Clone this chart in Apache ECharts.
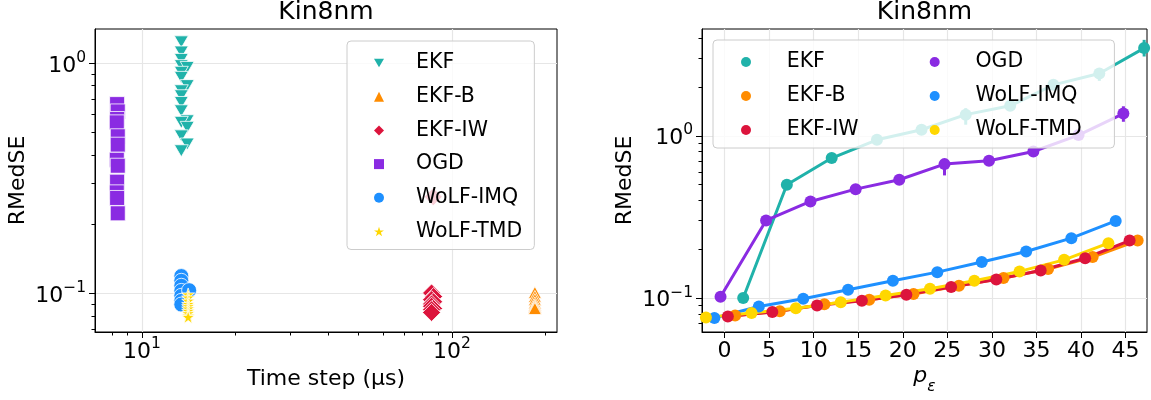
<!DOCTYPE html>
<html><head><meta charset="utf-8">
<script src="https://cdn.jsdelivr.net/npm/echarts@6/dist/echarts.min.js"></script>
<style>html,body{margin:0;padding:0;background:#fff}#c{width:1151px;height:400px}</style>
</head><body><div id="c"></div>
<script>
// ---------- data: left panel (time step vs RMedSE) ----------
const methods = ['EKF','EKF-B','EKF-IW','OGD','WoLF-IMQ','WoLF-TMD'];
const ekfT   = [13.4,13.4,13.4,13.4,14.0,13.4,13.4,14.0,13.4,13.4,13.4,13.4,14.0,13.4,14.0,13.4,14.0,13.4];
const ekfY   = [1.24,1.12,1.04,0.977,0.96,0.914,0.869,0.80,0.76,0.723,0.676,0.622,0.563,0.554,0.527,0.484,0.446,0.417];
const ekfbT  = [185,185,185,185,185,185,185,185];
const ekfbY  = [0.101,0.097,0.094,0.091,0.089,0.088,0.087,0.086];
const ekfiwT = [85.9,87.2,85.9,87.2,85.9,85.9,87.2,85.9,85.9,87.0];
const ekfiwY = [0.1005,0.097,0.094,0.092,0.090,0.088,0.086,0.085,0.0827,0.263];
const ogdT   = [8.32,8.36,8.32,8.30,8.36,8.36,8.30,8.36,8.32,8.30,8.32,8.36];
const ogdY   = [0.665,0.618,0.573,0.554,0.482,0.443,0.381,0.359,0.306,0.275,0.260,0.223];
const imqT   = [13.4,13.4,13.4,13.4,13.4,13.4,13.4,14.2];
const imqY   = [0.119,0.1135,0.108,0.1026,0.0977,0.0929,0.0895,0.1033];
const tmdT   = [14.1,14.1,14.1,14.1,14.1,14.1,14.1,14.1,14.1,14.1];
const tmdY   = [0.099,0.096,0.093,0.090,0.088,0.086,0.084,0.082,0.080,0.079];

// ---------- data: right panel (p_eps vs RMedSE) ----------
const rEKF   = [[2.09,0.1],[6.99,0.499],[12.02,0.729],[17.1,0.945],[22.1,1.089],[27.06,1.35],[32.05,1.53],[36.9,2.06],[42.05,2.42],[47.08,3.47]];
const rEKFB  = [[1.19,0.078],[6.2,0.083],[11.2,0.0915],[16.23,0.0975],[21.2,0.106],[26.3,0.119],[31.3,0.133],[36.3,0.151],[41.3,0.179],[46.35,0.226]];
const rEKFIW = [[0.37,0.077],[5.36,0.082],[10.38,0.090],[15.41,0.0962],[20.4,0.1047],[25.42,0.117],[30.49,0.130],[35.47,0.148],[40.46,0.176],[45.45,0.226]];
const rOGD   = [[-0.45,0.102],[4.66,0.301],[9.64,0.394],[14.71,0.469],[19.6,0.536],[24.68,0.669],[29.67,0.701],[34.65,0.800],[39.72,1.01],[44.75,1.37]];
const rIMQ   = [[-1.14,0.0753],[3.85,0.0888],[8.83,0.099],[13.86,0.1125],[18.89,0.128],[23.87,0.1445],[28.86,0.1667],[33.84,0.1937],[38.91,0.234],[43.89,0.299]];
const rTMD   = [[-2.09,0.0759],[3.03,0.0809],[8.0,0.0867],[13.04,0.0944],[18.07,0.1038],[23.05,0.114],[28.03,0.128],[33.1,0.146],[38.1,0.172],[43.07,0.218]];
const rEKFerr = [[27.06,1.17,1.48],[42.05,2.18,2.6],[47.08,3.08,3.9]];
const rOGDerr = [[24.68,0.57,0.71],[39.72,0.95,1.07],[44.75,1.22,1.52]];

// ---------- tick values ----------
const leftXMajor = [10,100];
const leftXMinor = [8,9,20,30,40,50,60,70,80,90,200];
const leftYMajor = [0.1,1];
const leftYMinor = [0.07,0.08,0.09,0.2,0.3,0.4,0.5,0.6,0.7,0.8,0.9];
const rightXTicks = [0,5,10,15,20,25,30,35,40,45];
const rightYMajor = [0.1,1];
const rightYMinor = [0.07,0.08,0.09,0.2,0.3,0.4,0.5,0.6,0.7,0.8,0.9,2,3,4];

const colors = {'EKF':'#20B2AA','EKF-B':'#FF8C00','EKF-IW':'#DC143C','OGD':'#8A2BE2','WoLF-IMQ':'#1E90FF','WoLF-TMD':'#FFD700'};
const FF = 'DejaVu Sans';
const invTri = 'path://M0,0L2,0L1,1.73Z';
const star = 'path://M0,-1L0.2245,-0.309L0.951,-0.309L0.363,0.118L0.588,0.809L0,0.382L-0.588,0.809L-0.363,0.118L-0.951,-0.309L-0.2245,-0.309Z';

function zip(a,b){return a.map((v,i)=>[v,b[i]]);}
function pow10(v){
  const e = Math.round(Math.log10(v));
  const s = e < 0 ? '\u2212' + (-e) : '' + e;
  return '{b|10}{s|' + s + '}';
}
const rich = {
  b:{fontSize:22,fontFamily:FF,color:'#000',verticalAlign:'bottom',lineHeight:27},
  s:{fontSize:15.5,fontFamily:FF,color:'#000',verticalAlign:'top',lineHeight:16}
};
const gridLine = {show:true,lineStyle:{color:'#e6e6e6',width:1.2}};
const nameStyle = {fontSize:22,fontFamily:FF,color:'#000'};

function majorLog(grid, min, max, vals, isY, name, gap){
  return {gridIndex:grid,type:'log',min:min,max:max,position:isY?'left':'bottom',
    axisLine:{show:true,onZero:false,lineStyle:{color:'#000',width:1}},
    axisTick:{show:true,length:6,customValues:vals,lineStyle:{color:'#000',width:1}},
    minorTick:{show:false},
    axisLabel:{show:true,customValues:vals,formatter:pow10,rich:rich,margin:isY?9:4},
    splitLine:Object.assign({},gridLine,{}),
    name:name,nameLocation:'middle',nameGap:gap,nameTextStyle:nameStyle,nameMoveOverlap:false};
}
function minorLog(grid, min, max, vals, isY){
  return {gridIndex:grid,type:'log',min:min,max:max,position:isY?'left':'bottom',
    axisLine:{show:false,onZero:false},
    axisTick:{show:true,length:3.5,customValues:vals,lineStyle:{color:'#000',width:1}},
    axisLabel:{show:false},splitLine:{show:false},minorTick:{show:false}};
}

const L = {xmin:7.06,xmax:218,ymin:0.068,ymax:1.41};
const R = {xmin:-2.53,xmax:47.4,ymin:0.0618,ymax:4.55};

function scatter(name, t, y, symbol, size){
  return {type:'scatter',name:name,xAxisIndex:0,yAxisIndex:0,data:zip(t,y),symbol:symbol,symbolSize:size,
    itemStyle:{color:colors[name],borderColor:'#ffffff',borderWidth:0.8,opacity:1},z:2};
}
function line(name, data){
  return {type:'line',name:name,xAxisIndex:2,yAxisIndex:2,data:data,symbol:'circle',symbolSize:12,showSymbol:true,
    lineStyle:{color:colors[name],width:3},itemStyle:{color:colors[name],borderWidth:0},z:3};
}
function errbar(color, data){
  return {type:'custom',xAxisIndex:2,yAxisIndex:2,data:data,z:3,
    renderItem:function(params, api){
      const p1 = api.coord([api.value(0), api.value(1)]);
      const p2 = api.coord([api.value(0), api.value(2)]);
      return {type:'line',shape:{x1:p1[0],y1:p1[1],x2:p2[0],y2:p2[1]},style:{stroke:color,lineWidth:3}};
    }};
}

const option = {
  animation:false,
  backgroundColor:'#fff',
  title:[
    {text:'Kin8nm',left:326,top:0,textAlign:'center',padding:0,textStyle:{fontSize:25,fontWeight:'normal',fontFamily:FF,color:'#000'}},
    {text:'Kin8nm',left:924.5,top:0,textAlign:'center',padding:0,textStyle:{fontSize:25,fontWeight:'normal',fontFamily:FF,color:'#000'}}
  ],
  grid:[
    {left:95,top:29,width:462,height:303,show:true,borderColor:'#000',borderWidth:1,backgroundColor:'transparent',containLabel:false,outerBoundsMode:'none'},
    {left:702,top:29,width:445,height:303,show:true,borderColor:'#000',borderWidth:1,backgroundColor:'transparent',containLabel:false,outerBoundsMode:'none'}
  ],
  xAxis:[
    majorLog(0,L.xmin,L.xmax,leftXMajor,false,'Time step (µs)',36),
    minorLog(0,L.xmin,L.xmax,leftXMinor,false),
    {gridIndex:1,type:'value',min:R.xmin,max:R.xmax,position:'bottom',
      axisLine:{show:true,onZero:false,lineStyle:{color:'#000',width:1}},
      axisTick:{show:true,length:6,customValues:rightXTicks,lineStyle:{color:'#000',width:1}},
      axisLabel:{show:true,customValues:rightXTicks,fontSize:22,fontFamily:FF,color:'#000',margin:8},
      splitLine:gridLine,
      name:'{i|p}{sub|ε}',nameLocation:'middle',nameGap:33,nameMoveOverlap:false,
      nameTextStyle:{rich:{i:{fontSize:22,fontFamily:FF,fontStyle:'italic',color:'#000',verticalAlign:'top',lineHeight:24},
                           sub:{fontSize:15.5,fontFamily:FF,fontStyle:'italic',color:'#000',verticalAlign:'bottom',lineHeight:30}}}}
  ],
  yAxis:[
    majorLog(0,L.ymin,L.ymax,leftYMajor,true,'RMedSE',66),
    minorLog(0,L.ymin,L.ymax,leftYMinor,true),
    majorLog(1,R.ymin,R.ymax,rightYMajor,true,'RMedSE',66),
    minorLog(1,R.ymin,R.ymax,rightYMinor,true)
  ],
  legend:[
    {orient:'vertical',left:347,top:41,padding:[10,12,6,27],itemGap:9.7,itemWidth:10,itemHeight:10,
      data:methods,selectedMode:false,itemStyle:{borderWidth:0},
      textStyle:{fontSize:20.5,fontFamily:FF,color:'#000',lineHeight:24,padding:[0,0,0,27]},
      backgroundColor:'rgba(255,255,255,0.8)',borderColor:'#cccccc',borderWidth:1,borderRadius:4,z:10},
    {orient:'horizontal',left:713,top:40,width:375,padding:[10,6,6,28],itemGap:10,itemWidth:10,itemHeight:10,icon:'circle',
      data:['EKF','OGD','EKF-B','WoLF-IMQ','EKF-IW','WoLF-TMD'],selectedMode:false,
      itemStyle:{borderWidth:0},
      textStyle:{fontSize:20.5,fontFamily:FF,color:'#000',lineHeight:24,width:133,padding:[0,0,0,30.7]},
      backgroundColor:'rgba(255,255,255,0.8)',borderColor:'#cccccc',borderWidth:1,borderRadius:4,z:10}
  ],
  series:[
    scatter('EKF',ekfT,ekfY,invTri,[14,12]),
    scatter('EKF-B',ekfbT,ekfbY,'triangle',[13,12]),
    scatter('EKF-IW',ekfiwT,ekfiwY,'diamond',[18,18]),
    scatter('OGD',ogdT,ogdY,'rect',[15,15]),
    scatter('WoLF-IMQ',imqT,imqY,'circle',15),
    scatter('WoLF-TMD',tmdT,tmdY,star,[13,13]),
    errbar(colors['EKF'],rEKFerr),
    line('EKF',rEKF),
    line('EKF-B',rEKFB),
    line('EKF-IW',rEKFIW),
    errbar(colors['OGD'],rOGDerr),
    line('OGD',rOGD),
    line('WoLF-IMQ',rIMQ),
    line('WoLF-TMD',rTMD)
  ]
};
const chart = echarts.init(document.getElementById('c'), null, {renderer:'canvas'});
chart.setOption(option);
</script></body></html>
